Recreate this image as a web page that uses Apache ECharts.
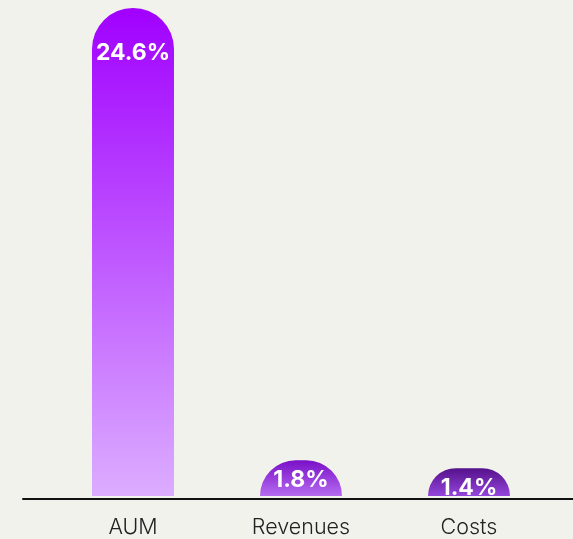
<!DOCTYPE html>
<html>
<head>
<meta charset="utf-8">
<script src="https://cdn.jsdelivr.net/npm/echarts@6/dist/echarts.min.js"></script>
<style>
  html, body { margin: 0; padding: 0; background: #f2f2ec; }
  #chart { width: 573px; height: 539px; }
</style>
</head>
<body>
<div id="chart"></div>
<script>
// data
const categories = ['AUM', 'Revenues', 'Costs'];
const growth = [24.6, 1.8, 1.4];

// gradient per bar (top -> bottom)
const barColors = [
  ['#a100ff', '#dcadff'],
  ['#7a0fc8', '#b56cf0'],
  ['#55118a', '#9446dc']
];

const chart = echarts.init(document.getElementById('chart'));

const option = {
  backgroundColor: '#f2f2ec',
  animation: false,
  grid: [
    { left: 49, right: 20, top: 8, bottom: 40 },
    // full-width grid only for the baseline
    { left: 23, right: 0, top: 8, bottom: 40 }
  ],
  xAxis: [
    {
      type: 'category',
      gridIndex: 0,
      data: categories,
      axisLine: { show: false },
      axisTick: { show: false },
      axisLabel: {
        margin: 21,
        fontFamily: 'Inter',
        fontSize: 21.5,
        fontWeight: 300,
        color: '#222'
      }
    },
    {
      type: 'category',
      gridIndex: 1,
      data: [''],
      axisLine: { show: true, lineStyle: { color: '#111', width: 2 } },
      axisTick: { show: false },
      axisLabel: { show: false }
    }
  ],
  yAxis: [
    { type: 'value', gridIndex: 0, min: 0, max: 24.6, show: false },
    { type: 'value', gridIndex: 1, show: false }
  ],
  series: [
    {
      type: 'bar',
      xAxisIndex: 0,
      yAxisIndex: 0,
      barWidth: 82,
      data: growth.map((v, i) => ({
        value: v,
        itemStyle: {
          color: new echarts.graphic.LinearGradient(0, 0, 0, 1, [
            { offset: 0, color: barColors[i][0] },
            { offset: 1, color: barColors[i][1] }
          ])
        },
        label: { distance: i === 0 ? 34 : 8 }
      })),
      itemStyle: { borderRadius: [41, 41, 0, 0] },
      label: {
        show: true,
        position: 'insideTop',
        formatter: '{c}%',
        fontFamily: 'Inter',
        fontWeight: 700,
        fontSize: 23,
        color: '#fff'
      }
    }
  ]
};

chart.setOption(option);
</script>
</body>
</html>
